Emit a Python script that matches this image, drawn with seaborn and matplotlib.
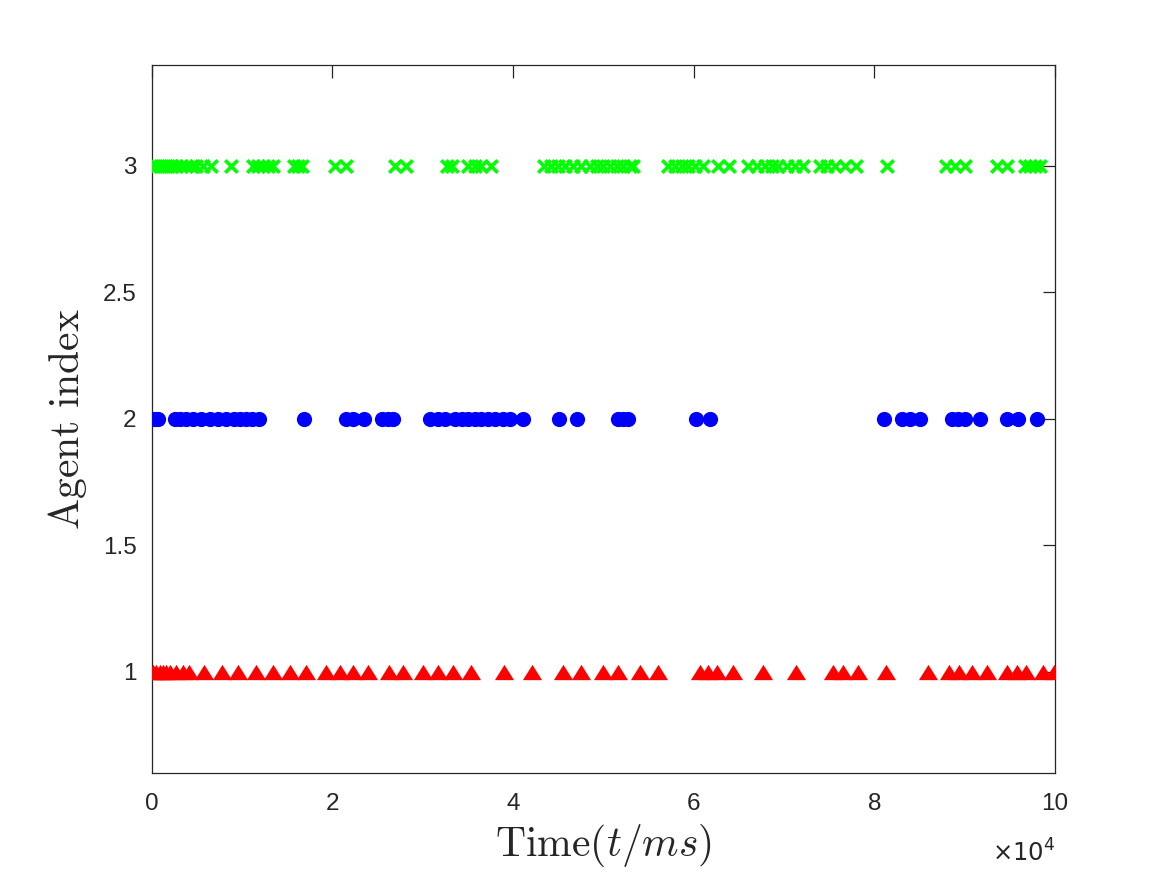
import numpy as np
import pandas as pd
import matplotlib
matplotlib.use('Agg')
import matplotlib.pyplot as plt
import seaborn as sns

# event times (ms) per agent
agent1_t = [140, 520, 890, 1250, 1630, 1990, 2660, 3470, 4130, 5760, 7830, 9560,
            11590, 13430, 15360, 17130, 19270, 20820, 22290, 23950, 26280, 27830,
            29980, 31640, 33370, 35400, 38980, 42120, 45480, 47480, 49980, 51640,
            54040, 56070, 60690, 61610, 62540, 64370, 67630, 71280, 75450, 76560,
            78150, 81280, 85900, 88290, 89400, 90780, 92500, 94650, 95760, 96790,
            98700, 99920]
agent2_t = [0, 330, 740, 2620, 3180, 3840, 4570, 5500, 6420, 7340, 8190, 9110,
            9750, 10410, 11150, 11880, 16870, 21560, 22290, 23510, 25500, 26170,
            26720, 30860, 31710, 32450, 33550, 34300, 35030, 35770, 36510, 37240,
            37980, 38900, 39650, 41120, 45040, 47100, 51640, 52190, 52680, 60210,
            61790, 81030, 83090, 83940, 85050, 88560, 89290, 90030, 91690, 94650,
            95940, 98040]
agent3_t = [0, 440, 890, 1330, 1810, 2290, 2740, 3290, 3840, 4400, 4950, 5680,
            6530, 8830, 11220, 11770, 12330, 12880, 13430, 15730, 16200, 16690,
            20270, 21560, 26910, 28130, 32640, 33260, 35030, 35770, 36510, 37510,
            43410, 44190, 44960, 45740, 46620, 47510, 48500, 49280, 49940, 50720,
            51500, 52160, 52930, 53270, 57180, 57920, 58660, 59390, 60130, 60980,
            62710, 63930, 66040, 66970, 67890, 68630, 69360, 70290, 71210, 72130,
            73980, 74720, 75640, 76740, 77930, 81430, 87930, 88930, 90030, 93610,
            94650, 96680, 97230, 97790, 98340]

x_ticks = [0, 20000, 40000, 60000, 80000, 100000]
x_ticklabels = ['0', '2', '4', '6', '8', '10']
y_ticks = [1, 1.5, 2, 2.5, 3]
y_ticklabels = ['1', '1.5', '2', '2.5', '3']

df1 = pd.DataFrame({'t': agent1_t, 'agent': 1})
df2 = pd.DataFrame({'t': agent2_t, 'agent': 2})
df3 = pd.DataFrame({'t': agent3_t, 'agent': 3})

sns.set_style('white')
plt.rcParams['font.family'] = ['Liberation Sans', 'DejaVu Sans']
plt.rcParams['mathtext.fontset'] = 'cm'

fig = plt.figure(figsize=(11.67, 8.75), dpi=100)
ax = fig.add_axes([0.130, 0.117, 0.774, 0.809])

# matlab-ish flat triangle
tri = [(-1, -0.8), (1, -0.8), (0, 0.8)]
sns.scatterplot(data=df1, x='t', y='agent', marker=tri, s=190, color=(1, 0, 0),
                linewidth=0, ax=ax, zorder=3)
sns.scatterplot(data=df2, x='t', y='agent', marker='o', s=120, color=(0, 0, 1),
                linewidth=0, ax=ax, zorder=3)
sns.scatterplot(data=df3, x='t', y='agent', marker='x', s=80, color=(0, 1, 0),
                linewidth=2.6, ax=ax, zorder=3)

ax.set_xlim(0, 100000)
ax.set_ylim(0.6, 3.4)
ax.set_xticks(x_ticks)
ax.set_xticklabels(x_ticklabels)
ax.set_yticks(y_ticks)
ax.set_yticklabels(y_ticklabels)
ax.tick_params(direction='in', length=9, width=0.9, colors='#262626',
               labelsize=17.5, top=True, right=True)
ax.tick_params(axis='x', pad=15)
ax.tick_params(axis='y', pad=11)
for sp in ax.spines.values():
    sp.set_color('#262626')
    sp.set_linewidth(0.9)

ax.set_xlabel(r'$\mathrm{Time}(t/ms)$', fontsize=30, labelpad=5)
ax.set_ylabel(r'$\mathrm{Agent\ index}$', fontsize=30, labelpad=10)

fig.text(0.904, 0.015, r'$\times10^{4}$', fontsize=17.5, color='#262626',
         ha='right', va='baseline', math_fontfamily='dejavusans')

fig.savefig('out.png', dpi=100, facecolor='white')
